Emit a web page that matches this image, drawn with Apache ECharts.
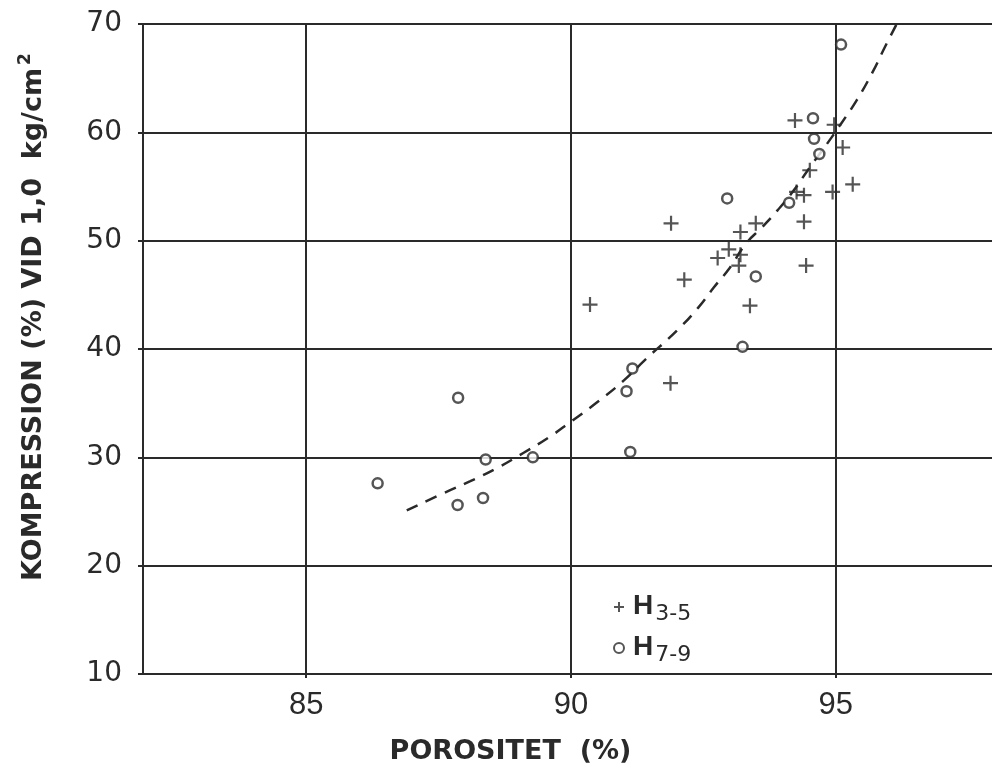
<!DOCTYPE html>
<html>
<head>
<meta charset="utf-8">
<script src="https://cdn.jsdelivr.net/npm/echarts@6/dist/echarts.min.js"></script>
<style>
  html, body { margin: 0; padding: 0; background: #fff; }
  #chart { width: 992px; height: 777px; }
</style>
</head>
<body>
<div id="chart"></div>
<script>
// Porositet (%) mot kompression (%) vid 1,0 kg/cm2
const xTicks = [85, 90, 95];

// H3-5 samples
const h35Porositet = [94.23, 94.97, 95.13, 94.51, 95.32, 94.94, 94.26, 94.40, 91.89, 94.40, 93.49,
                      93.20, 92.98, 93.20, 92.77, 93.17, 94.44, 92.14, 90.36, 93.38, 91.88];
const h35Kompression = [61.1, 60.7, 58.6, 56.5, 55.2, 54.5, 54.5, 54.2, 51.6, 51.75, 51.6,
                        50.8, 49.2, 48.7, 48.4, 47.7, 47.7, 46.4, 44.1, 44.0, 36.85];

// H7-9 samples
const h79Porositet = [95.10, 94.57, 94.59, 94.69, 94.12, 92.95, 93.49, 93.24, 91.16, 91.05, 91.12,
                      87.87, 88.39, 89.28, 86.35, 87.86, 88.34];
const h79Kompression = [68.1, 61.3, 59.4, 58.0, 53.5, 53.9, 46.7, 40.2, 38.2, 36.1, 30.5,
                        35.5, 29.8, 30.0, 27.6, 25.6, 26.25];

// Hand-drawn trend curve
const curvePorositet = [86.9, 87.6, 88.1, 88.6, 89.1, 89.6, 90.0, 90.5, 91.0, 91.4, 92.0, 92.4,
                        92.7, 93.0, 93.3, 93.6, 93.9, 94.2, 94.5, 94.8, 95.1, 95.4, 95.7, 95.9, 96.15];
const curveKompression = [25.1, 26.7, 27.8, 29.0, 30.4, 31.9, 33.3, 35.1, 37.1, 39.0, 41.7, 43.8,
                          45.7, 47.5, 49.7, 51.2, 52.8, 54.6, 56.7, 58.7, 60.8, 63.0, 65.6, 67.6, 70.0];

const ink = '#2a2a2a';
const zip = (a, b) => a.map((v, i) => [v, b[i]]);
const plusPath = 'path://M0,5L10,5M5,0L5,10';

const chart = echarts.init(document.getElementById('chart'));
chart.setOption({
  animation: false,
  backgroundColor: '#ffffff',
  grid: { left: 143, right: 0, top: 24, bottom: 103 },
  legend: {
    orient: 'vertical',
    left: 608,
    top: 584,
    itemGap: 5,
    itemWidth: 10,
    itemHeight: 10,
    data: ['H35', 'H79'],
    formatter: function (name) {
      return name === 'H35' ? '{h|H}{s|3-5}' : '{h|H}{s|7-9}';
    },
    textStyle: {
      color: ink,
      rich: {
        h: { fontSize: 28, fontWeight: 'bold', fontFamily: 'Liberation Sans', lineHeight: 30, verticalAlign: 'top', color: ink, padding: [0, 0, 0, 4] },
        s: { fontSize: 22, fontFamily: "'DejaVu Sans'", lineHeight: 22, padding: [14, 0, 0, 2], color: ink }
      }
    }
  },
  xAxis: {
    type: 'value',
    min: 81.92,
    max: 97.95,
    name: 'POROSITET  (%)',
    nameLocation: 'middle',
    nameGap: 64,
    nameTextStyle: {
      fontFamily: "'DejaVu Sans', sans-serif",
      fontSize: 27, fontWeight: 'bold', color: ink,
      padding: [0, 114, 0, 0]
    },
    axisLine: { show: true, onZero: false, lineStyle: { color: ink, width: 2 } },
    axisTick: { show: true, customValues: xTicks, length: 4, inside: false, lineStyle: { color: ink, width: 2 } },
    axisLabel: {
      customValues: xTicks,
      margin: 16,
      fontFamily: "'Liberation Sans', sans-serif",
      fontSize: 31, color: ink
    },
    splitLine: { show: false }
  },
  yAxis: {
    type: 'value',
    min: 10,
    max: 70,
    interval: 10,
    name: 'KOMPRESSION (%) VID 1,0  kg/cm{sup|2}',
    nameLocation: 'middle',
    nameRotate: 90,
    nameGap: 93,
    nameTextStyle: {
      fontFamily: "'DejaVu Sans', sans-serif",
      fontSize: 27, fontWeight: 'bold', color: ink,
      padding: [0, 0, 0, 64],
      rich: {
        sup: { fontSize: 17, fontFamily: "'DejaVu Sans', sans-serif", color: ink, padding: [0, 0, 16, 3] }
      }
    },
    axisLine: { show: true, lineStyle: { color: ink, width: 2 } },
    axisTick: { show: true, length: 5, lineStyle: { color: ink, width: 2 } },
    axisLabel: {
      margin: 21,
      fontFamily: "'DejaVu Sans', sans-serif",
      fontSize: 28, color: ink
    },
    splitLine: { show: true, lineStyle: { color: ink, width: 2 } }
  },
  series: [
    {
      name: 'grid',
      type: 'line',
      data: [],
      silent: true,
      markLine: {
        silent: true,
        symbol: 'none',
        label: { show: false },
        lineStyle: { color: ink, width: 2, type: 'solid' },
        data: xTicks.map(v => ({ xAxis: v }))
      }
    },
    {
      name: 'curve',
      type: 'line',
      data: zip(curvePorositet, curveKompression),
      smooth: true,
      showSymbol: false,
      silent: true,
      lineStyle: { color: ink, width: 2.5, type: [12, 9] },
      z: 3
    },
    {
      name: 'H35',
      type: 'scatter',
      data: zip(h35Porositet, h35Kompression),
      symbol: plusPath,
      symbolSize: 15,
      itemStyle: { color: 'transparent', borderColor: ink, borderWidth: 2.2 },
      z: 4
    },
    {
      name: 'H79',
      type: 'scatter',
      data: zip(h79Porositet, h79Kompression),
      symbol: 'circle',
      symbolSize: 10,
      itemStyle: { color: '#ffffff', borderColor: ink, borderWidth: 2.5 },
      z: 5
    }
  ]
});
</script>
</body>
</html>
